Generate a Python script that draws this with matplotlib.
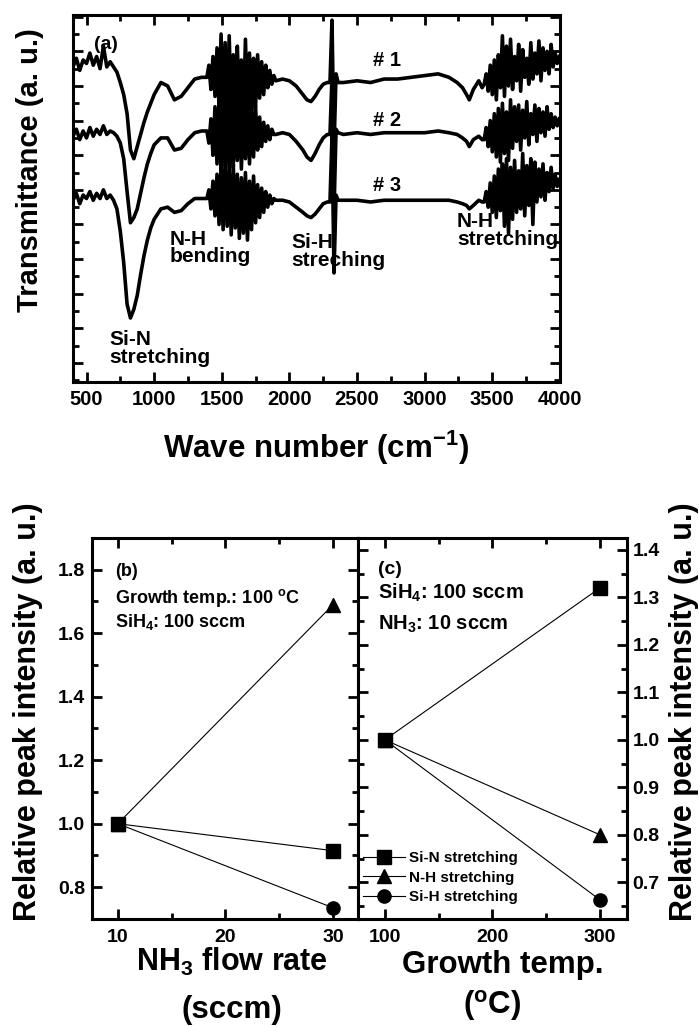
import numpy as np
import matplotlib
matplotlib.use('Agg')
import matplotlib.pyplot as plt
from matplotlib.ticker import MultipleLocator

plt.rcParams['font.family'] = ['Liberation Sans', 'DejaVu Sans']
plt.rcParams['font.weight'] = 'bold'
plt.rcParams['axes.labelweight'] = 'bold'
plt.rcParams['mathtext.fontset'] = 'custom'
plt.rcParams['mathtext.rm'] = 'Liberation Sans:bold'
plt.rcParams['mathtext.it'] = 'Liberation Sans:bold'
plt.rcParams['mathtext.bf'] = 'Liberation Sans:bold'
plt.rcParams['mathtext.default'] = 'rm'

# ---- (a) FTIR spectra (arbitrary transmittance units) ----
wn_left = [400, 425, 450, 475, 500, 525, 550, 575, 600, 625, 650, 675, 700, 725, 750,
           775, 800, 825, 850, 875, 900, 925, 950, 975, 1000, 1050, 1100, 1150, 1200,
           1250, 1300, 1350]
wn_a = list(range(1390, 1890, 15))
wn_mid = [1900, 1950, 2000, 2050, 2100, 2130, 2160, 2190, 2220, 2250, 2280, 2300]
wn_spike = [2315, 2330, 2345, 2360]
wn_right = [2400, 2500, 2600, 2700, 2800, 2900, 3000, 3100, 3180, 3240, 3280, 3310,
            3330, 3360, 3400, 3425]
wn_b = list(range(3440, 4000, 15))

s1_left = [18.2, 18.7, 18.0, 18.6, 18.4, 19.0, 18.3, 18.8, 18.1, 19.4,
           18.2, 18.5, 18.2, 17.9, 17.3, 16.6, 15.5, 13.4, 12.9, 13.6,
           14.3, 15.0, 15.6, 16.1, 16.6, 17.3, 17.1, 16.3, 16.5, 17.0,
           17.5, 17.6]
s1_a = [17.6, 18.3, 16.9, 18.8, 16.5, 19.3, 15.8, 20.1, 15.2, 19.6,
        14.6, 20.0, 15.5, 18.9, 14.9, 19.4, 16.0, 18.6, 15.1, 19.8,
        15.7, 19.0, 14.8, 18.7, 15.9, 18.9, 16.4, 18.5, 16.6, 18.3,
        17.0, 18.0, 17.2, 17.7]
s1_mid = [17.4, 17.5, 17.4, 17.1, 16.6, 16.3, 16.2, 16.5, 16.9, 17.2, 17.3, 17.3]
s1_spike = [20.9, 13.5, 17.8, 17.3]
s1_right = [17.3, 17.4, 17.3, 17.5, 17.5, 17.6, 17.7, 17.8, 17.6, 17.3, 17.0, 16.6,
            16.3, 16.9, 17.4, 17.0]
s1_b = [17.2, 17.8, 16.8, 18.3, 16.6, 18.6, 16.3, 18.9, 17.0, 20.0,
        16.5, 19.4, 17.1, 19.8, 16.9, 18.8, 17.4, 19.5, 16.8, 19.2,
        17.6, 18.7, 17.2, 19.6, 17.5, 19.0, 17.8, 19.7, 17.4, 19.3,
        18.0, 19.1, 17.8, 19.5, 18.2, 19.0, 18.4, 18.8]

s2_left = [14.2, 14.6, 14.0, 14.5, 14.1, 14.7, 14.2, 14.6, 14.3, 14.8,
           14.3, 14.5, 14.4, 14.2, 13.8, 12.9, 11.0, 9.2, 9.5, 10.0,
           10.9, 11.8, 12.6, 13.2, 13.7, 14.1, 14.1, 13.4, 13.5, 14.0,
           14.4, 14.5]
s2_a = [14.5, 13.8, 15.2, 13.1, 15.9, 12.6, 16.4, 12.2, 16.8, 12.5,
        16.2, 12.0, 16.6, 12.4, 16.0, 12.8, 16.5, 12.3, 15.8, 12.9,
        16.3, 12.6, 15.6, 13.0, 15.9, 13.4, 15.3, 13.6, 15.0, 13.9,
        14.8, 14.0, 14.6, 14.3]
s2_mid = [14.3, 14.4, 14.3, 13.9, 13.4, 13.0, 12.8, 13.2, 13.7, 14.1, 14.3, 14.3]
s2_spike = [17.6, 9.8, 14.6, 14.4]
s2_right = [14.3, 14.4, 14.3, 14.4, 14.4, 14.4, 14.4, 14.5, 14.4, 14.3, 14.1, 13.9,
            13.6, 14.0, 14.2, 14.0]
s2_b = [14.0, 14.7, 13.6, 15.1, 13.3, 15.5, 13.0, 15.8, 12.7, 16.1,
        13.2, 15.6, 12.8, 16.3, 13.5, 15.9, 13.9, 16.0, 13.4, 15.7,
        14.1, 16.2, 13.7, 15.5, 14.3, 16.0, 13.9, 15.8, 14.4, 15.6,
        14.2, 15.9, 14.6, 15.5, 14.7, 15.3, 14.8, 15.2]

s3_left = [10.5, 10.9, 10.3, 10.8, 10.6, 11.0, 10.5, 10.9, 10.6, 11.1,
           10.6, 10.8, 10.5, 10.0, 8.7, 6.9, 4.5, 3.7, 4.2, 5.0,
           6.2, 7.3, 8.2, 8.9, 9.4, 10.0, 10.1, 9.8, 9.9, 10.3,
           10.6, 10.6]
s3_a = [10.6, 11.1, 10.0, 11.6, 9.6, 12.0, 9.1, 12.5, 8.8, 12.8,
        9.0, 12.2, 8.5, 12.6, 8.9, 12.0, 8.3, 11.8, 8.6, 12.1,
        8.2, 11.6, 8.8, 11.9, 9.2, 11.4, 9.5, 11.2, 9.8, 11.0,
        10.1, 10.8, 10.3, 10.6]
s3_mid = [10.5, 10.5, 10.4, 10.1, 9.8, 9.6, 9.5, 9.7, 10.0, 10.3, 10.4, 10.4]
s3_spike = [14.2, 6.3, 10.8, 10.5]
s3_right = [10.5, 10.5, 10.4, 10.5, 10.5, 10.5, 10.5, 10.5, 10.5, 10.4, 10.3, 10.2,
            10.0, 10.2, 10.5, 10.4]
s3_b = [10.4, 11.0, 10.1, 11.5, 9.8, 11.9, 9.5, 12.3, 9.9, 12.6,
        9.0, 12.9, 8.6, 12.4, 9.4, 12.8, 9.8, 12.2, 10.0, 13.2,
        9.6, 12.5, 10.2, 12.9, 9.1, 12.7, 10.4, 12.3, 10.7, 12.6,
        10.5, 12.1, 11.0, 12.4, 11.2, 12.0, 11.3, 11.7]

# ---- (b) and (c) relative peak intensities ----
flow = [10, 30]
flow_sin = [1.0, 0.915]
flow_nh = [1.0, 1.69]
flow_sih = [1.0, 0.735]

temp = [100, 300]
temp_sin = [1.0, 1.32]
temp_nh = [1.0, 0.80]
temp_sih = [1.0, 0.663]

wn = np.concatenate([wn_left, wn_a, wn_mid, wn_spike, wn_right, wn_b])
spectra = [
    np.concatenate([s1_left, s1_a, s1_mid, s1_spike, s1_right, s1_b]),
    np.concatenate([s2_left, s2_a, s2_mid, s2_spike, s2_right, s2_b]),
    np.concatenate([s3_left, s3_a, s3_mid, s3_spike, s3_right, s3_b]),
]

fig = plt.figure(figsize=(6.99, 10.27), dpi=100)


def style(ax, lw=2.2):
    for sp in ax.spines.values():
        sp.set_linewidth(lw)
    ax.tick_params(which='both', direction='in', top=True, right=True, width=2)
    ax.tick_params(which='major', length=7)
    ax.tick_params(which='minor', length=4)


# top panel
ax = fig.add_axes([0.1044, 0.628, 0.6966, 0.3574])
for s in spectra:
    ax.plot(wn, s, color='black', lw=2.6)
ax.set_xlim(400, 4000)
ax.set_ylim(0, 21.2)
ax.xaxis.set_major_locator(MultipleLocator(500))
ax.xaxis.set_minor_locator(MultipleLocator(250))
ax.yaxis.set_major_locator(MultipleLocator(2, offset=1.1))
ax.yaxis.set_minor_locator(MultipleLocator(1, offset=0.1))
style(ax)
ax.tick_params(labelleft=False)
ax.tick_params(axis='x', labelsize=14.5, pad=6)
ax.set_xlabel('Wave number (cm$^{-1}$)', fontsize=22.5, labelpad=14)
fig.text(30 / 699, 1 - 170 / 1027, 'Transmittance (a. u.)', rotation=90,
         ha='center', va='center', fontsize=21)

ax.text(559, 19.5, '(a)', fontsize=14, va='center')
for lab, yy in zip(['# 1', '# 2', '# 3'], [18.55, 15.1, 11.36]):
    ax.text(2722, yy, lab, fontsize=14.5, ha='center', va='center')
ax.text(670, 3.0, 'Si-N\nstretching', fontsize=15, va='top', linespacing=0.9)
ax.text(1113, 8.8, 'N-H\nbending', fontsize=15, va='top', linespacing=0.9)
ax.text(2013, 8.6, 'Si-H\nstreching', fontsize=15, va='top', linespacing=0.9)
ax.text(3238, 9.8, 'N-H\nstretching', fontsize=15, va='top', linespacing=0.9)

# bottom left (b)
axb = fig.add_axes([0.1316, 0.1052, 0.3804, 0.371])
axb.plot(flow, flow_sin, '-s', color='black', lw=0.8, ms=9.5)
axb.plot(flow, flow_nh, '-^', color='black', lw=0.8, ms=10)
axb.plot(flow, flow_sih, '-o', color='black', lw=0.8, ms=9.5)
axb.set_xlim(7.6, 32.3)
axb.set_ylim(0.70, 1.90)
axb.xaxis.set_major_locator(MultipleLocator(10))
axb.xaxis.set_minor_locator(MultipleLocator(5))
axb.yaxis.set_major_locator(MultipleLocator(0.2))
axb.yaxis.set_minor_locator(MultipleLocator(0.1))
style(axb)
axb.tick_params(axis='x', labelsize=14, pad=7)
axb.tick_params(axis='y', labelsize=14, pad=5)
axb.text(0.086, 0.911, '(b)', transform=axb.transAxes, fontsize=13, va='center')
axb.text(0.086, 0.843, 'Growth temp.: 100 $^{o}$C', transform=axb.transAxes,
         fontsize=13, va='center')
axb.text(0.086, 0.78, 'SiH$_4$: 100 sccm', transform=axb.transAxes,
         fontsize=13, va='center')

# bottom right (c)
axc = fig.add_axes([0.512, 0.1052, 0.385, 0.371])
axc.plot(temp, temp_sin, '-s', color='black', lw=0.8, ms=9.5, label='Si-N stretching')
axc.plot(temp, temp_nh, '-^', color='black', lw=0.8, ms=10, label='N-H stretching')
axc.plot(temp, temp_sih, '-o', color='black', lw=0.8, ms=9.5, label='Si-H stretching')
axc.set_xlim(75, 325)
axc.set_ylim(0.623, 1.425)
axc.xaxis.set_major_locator(MultipleLocator(100))
axc.xaxis.set_minor_locator(MultipleLocator(50))
axc.yaxis.set_major_locator(MultipleLocator(0.1))
axc.yaxis.set_minor_locator(MultipleLocator(0.05))
style(axc)
axc.tick_params(labelleft=False, labelright=True)
axc.tick_params(axis='x', labelsize=14, pad=7)
axc.tick_params(axis='y', labelsize=14, pad=4)
axc.text(0.074, 0.916, '(c)', transform=axc.transAxes, fontsize=14, va='center')
axc.text(0.074, 0.856, 'SiH$_4$: 100 sccm', transform=axc.transAxes,
         fontsize=14.5, va='center')
axc.text(0.074, 0.772, 'NH$_3$: 10 sccm', transform=axc.transAxes,
         fontsize=14.5, va='center')
axc.legend(loc='center left', bbox_to_anchor=(0.02, 0.108), frameon=False,
           fontsize=11, handlelength=2.7, handletextpad=0.3, labelspacing=0.35,
           borderpad=0, borderaxespad=0)

fig.text(28 / 699, 1 - 712 / 1027, 'Relative peak intensity (a. u.)', rotation=90,
         ha='center', va='center', fontsize=22)
fig.text(684 / 699, 1 - 712 / 1027, 'Relative peak intensity (a. u.)', rotation=90,
         ha='center', va='center', fontsize=22)
fig.text(232 / 699, 1 - 962 / 1027, 'NH$_3$ flow rate', ha='center', va='center',
         fontsize=22)
fig.text(232 / 699, 1 - 1010 / 1027, '(sccm)', ha='center', va='center', fontsize=22.5)
fig.text(503 / 699, 1 - 965 / 1027, 'Growth temp.', ha='center', va='center',
         fontsize=22.5)
fig.text(492 / 699, 1 - 1005 / 1027, '($^{o}$C)', ha='center', va='center',
         fontsize=22.5)

fig.savefig('out.png', dpi=100)
